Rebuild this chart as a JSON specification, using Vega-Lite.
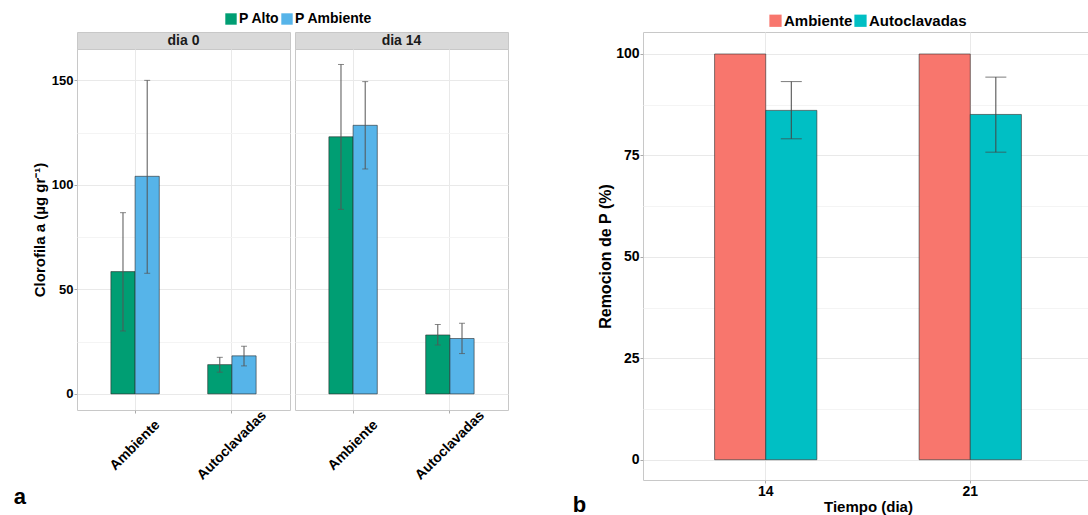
{
  "$schema": "https://vega.github.io/schema/vega-lite/v6.json",
  "padding": {"left": 13, "top": 12, "right": 0, "bottom": 0},
  "background": "white",
  "config": {
    "font": "Liberation Sans",
    "view": {"stroke": "#c8c8c8", "strokeWidth": 1},
    "axis": {"labelFontWeight": "bold", "labelColor": "#000", "titleFontWeight": "bold", "titleColor": "#000", "gridColor": "#e9e9e9", "tickColor": "#aaa", "domain": false, "tickSize": 3, "labelPadding": 1, "bandPosition": 0.5},
    "legend": {"orient": "none", "direction": "horizontal", "title": null, "symbolType": "square", "symbolStrokeWidth": 0, "labelFontWeight": "bold", "labelColor": "#000", "columnPadding": 0, "labelOffset": 1},
    "title": {"fontWeight": "bold", "color": "#000"}
  },
  "datasets": {
    "clor": [
      {"dia": "dia 0", "tipo": "Ambiente", "trat": "P Alto", "value": 58.5, "lo": 30.1, "hi": 86.7},
      {"dia": "dia 0", "tipo": "Ambiente", "trat": "P Ambiente", "value": 104.1, "lo": 57.7, "hi": 150},
      {"dia": "dia 0", "tipo": "Autoclavadas", "trat": "P Alto", "value": 14.0, "lo": 10.4, "hi": 17.5},
      {"dia": "dia 0", "tipo": "Autoclavadas", "trat": "P Ambiente", "value": 18.2, "lo": 13.4, "hi": 22.8},
      {"dia": "dia 14", "tipo": "Ambiente", "trat": "P Alto", "value": 123, "lo": 88.3, "hi": 157.6},
      {"dia": "dia 14", "tipo": "Ambiente", "trat": "P Ambiente", "value": 128.5, "lo": 107.6, "hi": 149.4},
      {"dia": "dia 14", "tipo": "Autoclavadas", "trat": "P Alto", "value": 28.2, "lo": 23.4, "hi": 33.2},
      {"dia": "dia 14", "tipo": "Autoclavadas", "trat": "P Ambiente", "value": 26.5, "lo": 19.3, "hi": 33.8}
    ],
    "rem": [
      {"tiempo": "14", "grupo": "Ambiente", "value": 100},
      {"tiempo": "14", "grupo": "Autoclavadas", "value": 86.1, "lo": 79.1, "hi": 93.2},
      {"tiempo": "21", "grupo": "Ambiente", "value": 100},
      {"tiempo": "21", "grupo": "Autoclavadas", "value": 85.1, "lo": 75.8, "hi": 94.3}
    ]
  },
  "hconcat": [
    {
      "title": {"text": "a", "orient": "bottom", "anchor": "start", "fontSize": 22, "dx": -18, "offset": 4},
      "hconcat": [
        {
          "vconcat": [
            {"width": 213, "height": 17, "data": {"values": [{"label": "dia 0"}]}, "view": {"fill": "#d9d9d9", "stroke": "#c8c8c8"}, "mark": {"type": "text", "fontWeight": "bold", "fontSize": 14, "color": "#1a1a1a"}, "encoding": {"text": {"field": "label"}}},
            {
              "width": 213, "height": 361,
              "data": {"name": "clor"},
              "transform": [{"filter": "datum.dia === 'dia 0'"}],
              "encoding": {
                "x": {"field": "tipo", "type": "nominal", "scale": {"paddingInner": 0.5, "paddingOuter": 0.35}, "axis": {"title": null, "labelAngle": -45, "labelAlign": "center", "labelBaseline": "middle", "labelFontSize": 14, "labelPadding": 32, "grid": true}},
                "xOffset": {"field": "trat", "type": "nominal", "scale": {"paddingInner": 0, "paddingOuter": 0}}
              },
              "layer": [
                {"mark": {"type": "bar", "stroke": "#2b2b2b", "strokeWidth": 0.6},
                 "encoding": {
                   "y": {"field": "value", "type": "quantitative", "scale": {"domain": [-7.7, 165], "nice": false}, "axis": {"values": [0, 50, 100, 150], "labelFontSize": 13, "title": "Clorofila a (µg gr⁻¹)", "titleFontSize": 15, "titlePadding": 4}},
                   "y2": {"datum": 0},
                   "color": {"field": "trat", "type": "nominal", "scale": {"domain": ["P Alto", "P Ambiente"], "range": ["#009E73", "#56B4E9"]}, "legend": {"legendX": 147, "legendY": -20, "labelFontSize": 14, "symbolSize": 130}}
                 }},
                {"mark": {"type": "rule", "color": "#555", "strokeWidth": 1},
                 "encoding": {"y": {"field": "lo", "type": "quantitative", "axis": {"orient": "right", "values": [25, 75, 125], "labels": false, "ticks": false, "domain": false, "title": null, "grid": true, "gridColor": "#f4f4f4"}}, "y2": {"field": "hi"}}},
                {"mark": {"type": "tick", "color": "#555", "thickness": 1, "size": 6}, "encoding": {"y": {"field": "lo", "type": "quantitative", "axis": null}}},
                {"mark": {"type": "tick", "color": "#555", "thickness": 1, "size": 6}, "encoding": {"y": {"field": "hi", "type": "quantitative", "axis": null}}}
              ],
              "resolve": {"axis": {"y": "independent"}}
            }
          ],
          "spacing": 0, "bounds": "flush"
        },
        {
          "vconcat": [
            {"width": 213, "height": 17, "data": {"values": [{"label": "dia 14"}]}, "view": {"fill": "#d9d9d9", "stroke": "#c8c8c8"}, "mark": {"type": "text", "fontWeight": "bold", "fontSize": 14, "color": "#1a1a1a"}, "encoding": {"text": {"field": "label"}}},
            {
              "width": 213, "height": 361,
              "data": {"name": "clor"},
              "transform": [{"filter": "datum.dia === 'dia 14'"}],
              "encoding": {
                "x": {"field": "tipo", "type": "nominal", "scale": {"paddingInner": 0.5, "paddingOuter": 0.35}, "axis": {"title": null, "labelAngle": -45, "labelAlign": "center", "labelBaseline": "middle", "labelFontSize": 14, "labelPadding": 32, "grid": true}},
                "xOffset": {"field": "trat", "type": "nominal", "scale": {"paddingInner": 0, "paddingOuter": 0}}
              },
              "layer": [
                {"mark": {"type": "bar", "stroke": "#2b2b2b", "strokeWidth": 0.6},
                 "encoding": {
                   "y": {"field": "value", "type": "quantitative", "scale": {"domain": [-7.7, 165], "nice": false}, "axis": {"values": [0, 50, 100, 150], "labels": false, "ticks": false, "title": null}},
                   "y2": {"datum": 0},
                   "color": {"field": "trat", "type": "nominal", "scale": {"domain": ["P Alto", "P Ambiente"], "range": ["#009E73", "#56B4E9"]}, "legend": {"legendX": 147, "legendY": -20, "labelFontSize": 14, "symbolSize": 130}}
                 }},
                {"mark": {"type": "rule", "color": "#555", "strokeWidth": 1},
                 "encoding": {"y": {"field": "lo", "type": "quantitative", "axis": {"orient": "right", "values": [25, 75, 125], "labels": false, "ticks": false, "domain": false, "title": null, "grid": true, "gridColor": "#f4f4f4"}}, "y2": {"field": "hi"}}},
                {"mark": {"type": "tick", "color": "#555", "thickness": 1, "size": 6}, "encoding": {"y": {"field": "lo", "type": "quantitative", "axis": null}}},
                {"mark": {"type": "tick", "color": "#555", "thickness": 1, "size": 6}, "encoding": {"y": {"field": "hi", "type": "quantitative", "axis": null}}}
              ],
              "resolve": {"axis": {"y": "independent"}}
            }
          ],
          "spacing": 0, "bounds": "flush"
        }
      ],
      "spacing": 3,
      "resolve": {"scale": {"color": "shared", "y": "shared", "x": "independent", "xOffset": "independent"}, "legend": {"color": "shared"}}
    },
    {
      "title": {"text": "b", "orient": "bottom", "anchor": "start", "fontSize": 22, "dx": -25, "dy": -23},
      "width": 450, "height": 448,
      "data": {"name": "rem"},
      "encoding": {
        "x": {"field": "tiempo", "type": "nominal", "scale": {"paddingInner": 0.5, "paddingOuter": 0.35}, "axis": {"title": "Tiempo (dia)", "labelAngle": 0, "labelFontSize": 14, "titleFontSize": 15, "grid": true, "titlePadding": 1, "labelPadding": 1}},
        "xOffset": {"field": "grupo", "type": "nominal", "scale": {"paddingInner": 0, "paddingOuter": 0}}
      },
      "layer": [
        {"mark": {"type": "bar", "stroke": "#2b2b2b", "strokeWidth": 0.6},
         "encoding": {
           "y": {"field": "value", "type": "quantitative", "scale": {"domain": [-5, 105.42], "nice": false}, "axis": {"values": [0, 25, 50, 75, 100], "labelFontSize": 14, "title": "Remocion de P (%)", "titleFontSize": 16, "titlePadding": 2}},
           "y2": {"datum": 0},
           "color": {"field": "grupo", "type": "nominal", "scale": {"domain": ["Ambiente", "Autoclavadas"], "range": ["#F8766D", "#00BFC4"]}, "legend": {"legendX": 125, "legendY": -19, "labelFontSize": 15, "symbolSize": 150}}
         }},
        {"mark": {"type": "rule", "color": "#444", "strokeWidth": 1},
         "encoding": {"y": {"field": "lo", "type": "quantitative", "axis": {"orient": "right", "values": [12.5, 37.5, 62.5, 87.5], "labels": false, "ticks": false, "domain": false, "title": null, "grid": true, "gridColor": "#f4f4f4"}}, "y2": {"field": "hi"}}},
        {"mark": {"type": "tick", "color": "#444", "thickness": 1, "size": 21}, "encoding": {"y": {"field": "lo", "type": "quantitative", "axis": null}}},
        {"mark": {"type": "tick", "color": "#444", "thickness": 1, "size": 21}, "encoding": {"y": {"field": "hi", "type": "quantitative", "axis": null}}}
      ],
      "resolve": {"axis": {"y": "independent"}}
    }
  ],
  "spacing": 63,
  "resolve": {"scale": {"color": "independent", "x": "independent", "y": "independent", "xOffset": "independent"}, "legend": {"color": "independent"}}
}
